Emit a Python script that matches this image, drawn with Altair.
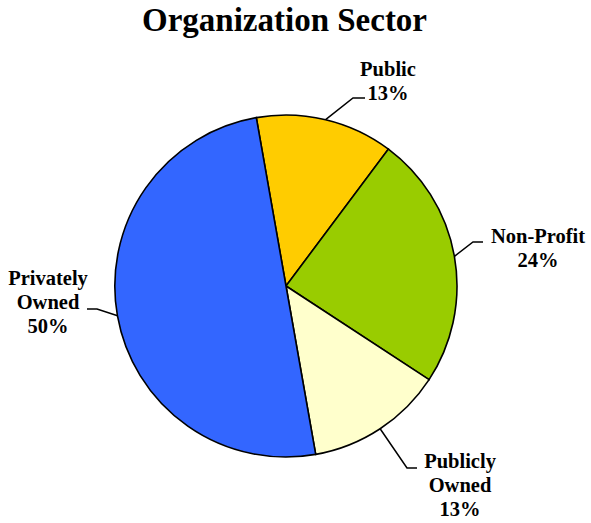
import math
import numpy as np
import pandas as pd
import altair as alt

# ---- data ----
categories = ["Public", "Non-Profit", "Publicly Owned", "Privately Owned"]
label_lines = ["Public", "Non-Profit", "Publicly\nOwned", "Privately\nOwned"]
values = [13, 24, 13, 50]
colors = ["#FFCC00", "#99CC00", "#FFFFCC", "#3366FF"]

# ---- layout ----
W, H, TOP = 591, 523, 50
CX, CY, R = 286, 286, 171
START_DEG = -10
label_pos = {  # label anchor (center x, first baseline y), page pixels
    "Public": (388, 76),
    "Non-Profit": (538, 243),
    "Publicly Owned": (460, 468),
    "Privately Owned": (48, 285),
}
leader_pts = {  # elbow and end of each leader line
    "Public": [(353, 98), (365, 98)],
    "Non-Profit": [(473, 242), (483, 242)],
    "Publicly Owned": [(407, 468), (417, 468)],
    "Privately Owned": [(97, 309), (87, 309)],
}

df = pd.DataFrame({
    "idx": range(len(categories)),
    "category": categories,
    "label": label_lines,
    "value": values,
})
df["lx"] = [label_pos[c][0] for c in categories]
df["ly"] = [label_pos[c][1] for c in categories]

total = float(sum(values))
cum = np.cumsum(values)
mid_deg = START_DEG + 360.0 * (cum - np.array(values) / 2.0) / total
rows = []
for c, m in zip(categories, mid_deg):
    a = math.radians(m)
    rows.append({"category": c, "step": 0, "x": CX + R * math.sin(a), "y": CY - R * math.cos(a)})
    for k, (px, py) in enumerate(leader_pts[c], start=1):
        rows.append({"category": c, "step": k, "x": px, "y": py})
lead = pd.DataFrame(rows)

xs = alt.Scale(domain=[0, W], range=[0, W])
ys = alt.Scale(domain=[TOP, H], range=[0, H - TOP])
start_rad = math.radians(START_DEG)

arcs = alt.Chart(df).mark_arc(radius=R, stroke="black", strokeWidth=1.6).encode(
    theta=alt.Theta("value:Q", stack=True,
                    scale=alt.Scale(range=[start_rad, start_rad + 2 * math.pi])),
    color=alt.Color("category:N", scale=alt.Scale(domain=categories, range=colors), legend=None),
    order=alt.Order("idx:Q"),
    x=alt.value(CX),
    y=alt.value(CY - TOP),
)

leaders = alt.Chart(lead).mark_line(color="black", strokeWidth=1.5).encode(
    x=alt.X("x:Q", scale=xs, axis=None),
    y=alt.Y("y:Q", scale=ys, axis=None),
    detail="category:N",
    order="step:Q",
)

labels = alt.Chart(df).transform_joinaggregate(
    total="sum(value)"
).transform_calculate(
    txt="datum.label + '\\n' + format(datum.value / datum.total, '.0%')"
).mark_text(
    font="Liberation Serif", fontWeight="bold", fontSize=20.5, lineBreak="\n",
    lineHeight=24, align="center", baseline="alphabetic", color="black",
).encode(
    x=alt.X("lx:Q", scale=xs, axis=None),
    y=alt.Y("ly:Q", scale=ys, axis=None),
    text="txt:N",
)

chart = alt.layer(arcs, leaders, labels).properties(
    width=W, height=H - TOP,
    title=alt.TitleParams("Organization Sector", font="Liberation Serif", fontSize=33,
                          fontWeight="bold", anchor="middle", baseline="alphabetic",
                          offset=-14, dx=-11, color="black"),
    autosize=alt.AutoSizeParams(type="none"),
    padding={"left": 0, "right": 0, "top": TOP, "bottom": 0},
).configure_view(stroke=None)

chart.save("out.html", embed_options={"renderer": "svg", "actions": False})
